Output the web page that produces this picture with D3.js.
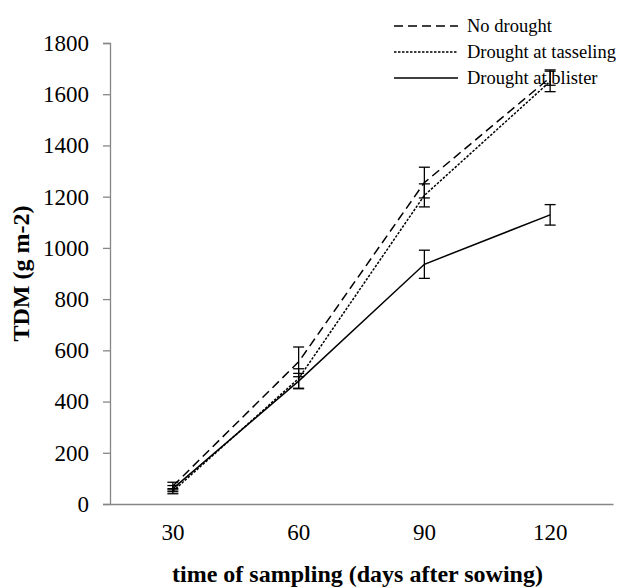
<!DOCTYPE html>
<html>
<head>
<meta charset="utf-8">
<script src="https://cdn.jsdelivr.net/npm/d3@7"></script>
<style>
  body { margin: 0; background: #fff; }
  svg { display: block; }
</style>
</head>
<body>
<div id="chart"></div>
<script>
const days = ['30', '60', '90', '120']
const seriesNames = ['No drought', 'Drought at tasseling', 'Drought at blister']
const noDrought = [70, 555, 1255, 1665]
const noDroughtErr = [15, 58, 60, 30]
const tasseling = [50, 490, 1205, 1650]
const tasselingErr = [10, 38, 45, 40]
const blister = [60, 480, 936, 1129]
const blisterErr = [12, 30, 55, 40]
const yTicks = [0, 200, 400, 600, 800, 1000, 1200, 1400, 1600, 1800]

const W = 621
const H = 588
const margin = { top: 43, right: 8, bottom: 84, left: 110 }
const width = W - margin.left - margin.right
const height = H - margin.top - margin.bottom
const font = '"Liberation Serif", "Times New Roman", serif'

const series = [
  { name: seriesNames[0], values: noDrought, err: noDroughtErr, dash: '9,5' },
  { name: seriesNames[1], values: tasseling, err: tasselingErr, dash: '2.5,1.5' },
  { name: seriesNames[2], values: blister, err: blisterErr, dash: null }
]

const svg = d3.select('#chart')
  .append('svg')
  .attr('width', W)
  .attr('height', H)

const g = svg.append('g')
  .attr('transform', `translate(${margin.left},${margin.top})`)

const x = d3.scaleBand()
  .domain(days)
  .range([0, width])

const y = d3.scaleLinear()
  .domain([0, 1800])
  .range([height, 0])

// y axis
const yAxis = g.append('g')
  .call(d3.axisLeft(y).tickValues(yTicks).tickFormat(d3.format('d')).tickSize(7).tickPadding(14))
yAxis.select('.domain').attr('stroke', '#868686').attr('stroke-width', 1.3)
yAxis.selectAll('.tick line').attr('stroke', '#868686').attr('stroke-width', 1.3)
yAxis.selectAll('text')
  .attr('font-family', font)
  .attr('font-size', 23)
  .attr('fill', '#000')

// x axis
const xAxis = g.append('g')
  .attr('transform', `translate(0,${height})`)
  .call(d3.axisBottom(x).tickSize(0).tickPadding(20))
xAxis.select('.domain').attr('stroke', '#868686').attr('stroke-width', 1.3)
xAxis.selectAll('text')
  .attr('font-family', font)
  .attr('font-size', 23)
  .attr('fill', '#000')

const cx = d => x(d) + x.bandwidth() / 2

const line = d3.line()
  .x((d, i) => cx(days[i]))
  .y(d => y(d))

series.forEach(s => {
  g.append('path')
    .datum(s.values)
    .attr('d', line)
    .attr('fill', 'none')
    .attr('stroke', '#000')
    .attr('stroke-width', 1.5)
    .attr('stroke-dasharray', s.dash)

  const bars = g.append('g')
    .selectAll('g')
    .data(s.values)
    .enter()
    .append('g')
    .attr('stroke', '#000')
    .attr('stroke-width', 1.3)

  bars.append('line')
    .attr('x1', (d, i) => cx(days[i]))
    .attr('x2', (d, i) => cx(days[i]))
    .attr('y1', (d, i) => y(d + s.err[i]))
    .attr('y2', (d, i) => y(d - s.err[i]))
  bars.append('line')
    .attr('x1', (d, i) => cx(days[i]) - 5.5)
    .attr('x2', (d, i) => cx(days[i]) + 5.5)
    .attr('y1', (d, i) => y(d + s.err[i]))
    .attr('y2', (d, i) => y(d + s.err[i]))
  bars.append('line')
    .attr('x1', (d, i) => cx(days[i]) - 5.5)
    .attr('x2', (d, i) => cx(days[i]) + 5.5)
    .attr('y1', (d, i) => y(d - s.err[i]))
    .attr('y2', (d, i) => y(d - s.err[i]))
})

// legend
const legend = svg.append('g')
  .attr('transform', 'translate(394,26)')

const items = legend.selectAll('g')
  .data(series)
  .enter()
  .append('g')
  .attr('transform', (d, i) => `translate(0,${i * 26})`)

items.append('line')
  .attr('x1', 0)
  .attr('x2', 64)
  .attr('stroke', '#000')
  .attr('stroke-width', 1.5)
  .attr('stroke-dasharray', d => d.dash)

items.append('text')
  .attr('x', 73)
  .attr('dy', '0.32em')
  .attr('font-family', font)
  .attr('font-size', 18.5)
  .text(d => d.name)

// axis titles
svg.append('text')
  .attr('x', margin.left + width / 2 - 4)
  .attr('y', 582)
  .attr('text-anchor', 'middle')
  .attr('font-family', font)
  .attr('font-weight', 'bold')
  .attr('font-size', 24)
  .text('time of sampling (days after sowing)')

svg.append('text')
  .attr('transform', `translate(29,${margin.top + height / 2}) rotate(-90)`)
  .attr('text-anchor', 'middle')
  .attr('font-family', font)
  .attr('font-weight', 'bold')
  .attr('font-size', 24)
  .text('TDM (g m-2)')
</script>
</body>
</html>
